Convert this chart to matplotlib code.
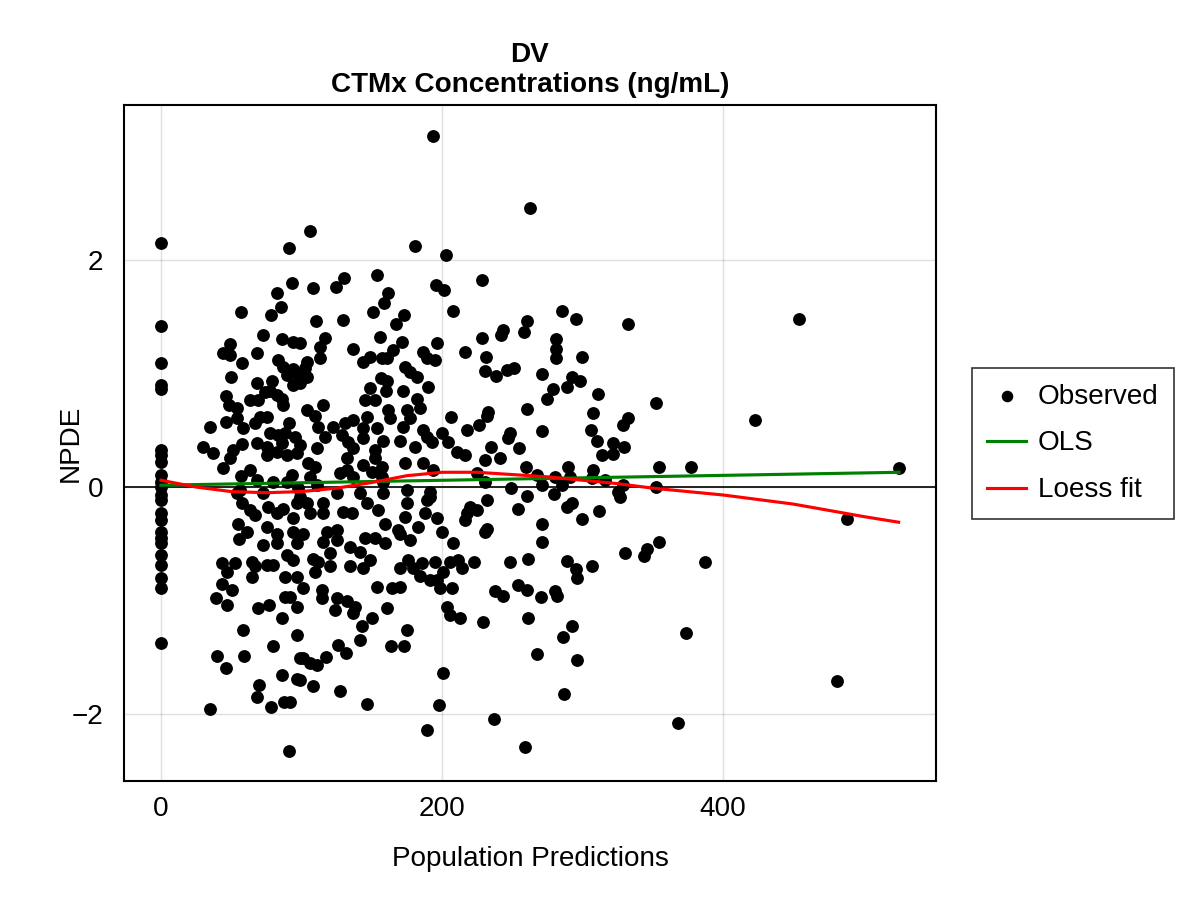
import numpy as np
import matplotlib.pyplot as plt

plt.rcParams["font.family"] = ["Liberation Sans", "DejaVu Sans"]
plt.rcParams["axes.unicode_minus"] = True

# --------- data (population prediction, NPDE) ---------
# observations with a population prediction of 0
npde_zero = [2.15, 1.42, 1.09, 0.90, 0.86, 0.33, 0.28, 0.22, 0.11, 0.04, 0.00,
             -0.07, -0.11, -0.23, -0.29, -0.40, -0.45, -0.49, -0.60, -0.69,
             -0.80, -0.89, -1.37]

# predictions roughly 25 - 100
obs_low = [
    (91.1, 2.11), (93.2, 1.80), (82.6, 1.71), (85.4, 1.59), (78.3, 1.52), (56.9, 1.54),
    (72.6, 1.34), (86.1, 1.30), (93.9, 1.28), (49.1, 1.26), (44.1, 1.18), (49.1, 1.16),
    (68.3, 1.18), (57.6, 1.09), (83.3, 1.12), (86.8, 1.06), (93.9, 1.04), (89.7, 0.99),
    (96.8, 1.00), (49.8, 0.97), (68.3, 0.92), (79.0, 0.93), (93.9, 0.90), (74.0, 0.84),
    (77.6, 0.85), (82.6, 0.81), (46.3, 0.80), (48.4, 0.72), (54.1, 0.70), (63.3, 0.77),
    (69.0, 0.77), (86.1, 0.78), (86.8, 0.72), (70.5, 0.62), (75.4, 0.62), (66.9, 0.56),
    (54.1, 0.61), (46.3, 0.57), (58.4, 0.52), (34.9, 0.53), (91.1, 0.56), (77.6, 0.48),
    (83.3, 0.46), (88.3, 0.48), (95.4, 0.44), (68.3, 0.39), (57.6, 0.38), (51.2, 0.33),
    (49.1, 0.26), (29.9, 0.35), (37.0, 0.30), (44.1, 0.17), (75.4, 0.35), (75.4, 0.28),
    (82.6, 0.31), (89.7, 0.28), (96.8, 0.30), (86.1, 0.39), (93.2, 0.11), (68.3, 0.06),
    (79.7, 0.04), (89.7, 0.04), (54.1, -0.05), (56.2, -0.03), (72.6, -0.05), (97.5, -0.01),
    (63.3, 0.15), (56.9, 0.10),
    (54.8, -0.33), (55.5, -0.46), (61.2, -0.40), (43.4, -0.67), (52.7, -0.67), (47.0, -0.75),
    (64.8, -0.66), (66.9, -0.70), (64.8, -0.79), (75.4, -0.69), (79.7, -0.69), (43.4, -0.85),
    (50.5, -0.91), (39.1, -0.98), (47.0, -1.04), (69.0, -1.07), (76.9, -1.04), (86.1, -1.15),
    (58.4, -1.26), (88.3, -0.97), (91.8, -0.97), (88.3, -0.79), (96.8, -0.79), (89.7, -0.60),
    (93.9, -0.64), (72.6, -0.51), (82.6, -0.49), (82.6, -0.41), (93.9, -0.40), (93.9, -0.27),
    (82.6, -0.23), (75.4, -0.35), (66.9, -0.25), (57.6, -0.14), (63.3, -0.20), (76.2, -0.18),
    (86.8, -0.19), (96.8, -0.14), (96.8, -0.49), (96.8, -1.06), (96.8, -1.30),
    (39.9, -1.49), (46.3, -1.59), (59.1, -1.49), (79.7, -1.40), (98.9, -1.51), (69.7, -1.74),
    (68.3, -1.85), (78.3, -1.94), (86.1, -1.66), (96.8, -1.69), (87.5, -1.89), (91.8, -1.89),
    (34.9, -1.96), (91.1, -2.33),
]

# predictions roughly 100 - 220
obs_mid = [
    (193.6, 3.09), (106.0, 2.26), (180.8, 2.12), (202.8, 2.04), (108.2, 1.75), (124.5, 1.76),
    (130.2, 1.84), (153.7, 1.87), (161.6, 1.71), (158.7, 1.62), (150.9, 1.54), (172.9, 1.52),
    (167.3, 1.44), (110.3, 1.46), (129.5, 1.47), (195.7, 1.78), (201.4, 1.74), (207.8, 1.55),
    (116.7, 1.31), (113.2, 1.23), (113.2, 1.14), (98.9, 1.27), (103.9, 1.10), (102.5, 1.05),
    (103.9, 0.97), (98.9, 0.92), (136.6, 1.22), (155.9, 1.32), (171.5, 1.28), (196.4, 1.27),
    (165.1, 1.21), (157.3, 1.14), (160.8, 1.14), (148.7, 1.15), (143.8, 1.10), (186.5, 1.19),
    (189.3, 1.14), (195.0, 1.12), (216.4, 1.19), (173.7, 1.06), (177.2, 1.01), (182.2, 0.97),
    (156.6, 0.96), (160.8, 0.93), (190.0, 0.88), (172.2, 0.85), (160.1, 0.85), (148.7, 0.87),
    (145.2, 0.77), (152.3, 0.77), (182.2, 0.78), (184.3, 0.70), (161.6, 0.68), (163.0, 0.61),
    (175.1, 0.68), (177.2, 0.61), (172.2, 0.53), (115.3, 0.72), (103.9, 0.68), (109.6, 0.63),
    (111.7, 0.53), (122.4, 0.53), (136.6, 0.59), (146.6, 0.62), (131.0, 0.56), (143.8, 0.52),
    (153.7, 0.52), (116.7, 0.44), (128.8, 0.46), (143.8, 0.43), (158.0, 0.41), (133.1, 0.40),
    (170.1, 0.41), (180.8, 0.35), (186.5, 0.50), (189.3, 0.44), (192.9, 0.40), (200.0, 0.48),
    (204.3, 0.40), (206.4, 0.62), (217.8, 0.50), (210.7, 0.31), (216.4, 0.28), (111.0, 0.34),
    (104.6, 0.21), (109.6, 0.18), (106.0, 0.09), (98.9, 0.37), (132.4, 0.26), (136.6, 0.34),
    (132.4, 0.15), (136.6, 0.09), (127.4, 0.12), (152.3, 0.33), (152.3, 0.26), (143.8, 0.19),
    (150.2, 0.13), (157.3, 0.18), (157.3, 0.09), (158.0, 0.04), (173.7, 0.21), (186.5, 0.21),
    (193.6, 0.15), (125.3, -0.05), (111.0, 0.02), (141.6, -0.05), (158.0, -0.05), (175.1, -0.03),
    (191.4, -0.04), (191.4, -0.09), (98.9, -0.09),
    (103.9, -0.14), (106.0, -0.23), (115.3, -0.23), (115.3, -0.14), (129.5, -0.22), (135.9, -0.23),
    (146.6, -0.14), (154.4, -0.20), (175.1, -0.14), (187.9, -0.23), (189.3, -0.11), (196.4, -0.27),
    (217.8, -0.23), (216.4, -0.29), (159.4, -0.33), (173.7, -0.26), (182.9, -0.35), (200.0, -0.40),
    (207.8, -0.49), (168.7, -0.38), (177.2, -0.47), (170.1, -0.41), (118.1, -0.40), (125.3, -0.38),
    (125.3, -0.47), (115.3, -0.48), (101.1, -0.41), (145.2, -0.45), (152.3, -0.45), (159.4, -0.49),
    (134.5, -0.53), (141.6, -0.57), (120.3, -0.58), (108.2, -0.63), (111.7, -0.66), (120.3, -0.70),
    (109.6, -0.75), (134.5, -0.70), (143.8, -0.71), (148.7, -0.64), (170.1, -0.71), (175.8, -0.64),
    (179.4, -0.71), (185.8, -0.67), (195.0, -0.66), (184.3, -0.78), (191.4, -0.82), (196.4, -0.82),
    (200.7, -0.75), (205.7, -0.66), (211.4, -0.64), (214.2, -0.71), (198.6, -0.89), (207.1, -0.89),
    (153.7, -0.88), (164.4, -0.89), (170.1, -0.88), (101.1, -0.89), (114.6, -0.91), (114.6, -0.98),
    (125.3, -0.98), (132.4, -1.00), (123.8, -1.08), (138.1, -1.06), (136.6, -1.11), (160.8, -1.07),
    (203.5, -1.06), (205.7, -1.13), (212.8, -1.15), (150.2, -1.15), (143.1, -1.22), (175.1, -1.26),
    (101.1, -1.51), (106.0, -1.55), (111.0, -1.57), (117.4, -1.50), (126.0, -1.39), (131.7, -1.46),
    (141.6, -1.35), (163.7, -1.40), (172.9, -1.40), (98.9, -1.70), (108.2, -1.75), (127.4, -1.80),
    (146.6, -1.91), (200.7, -1.64), (197.9, -1.92), (189.3, -2.14),
]

# predictions above roughly 220
obs_high = [
    (262.6, 2.46), (228.5, 1.82), (285.4, 1.55), (295.4, 1.48), (332.4, 1.44), (454.1, 1.48),
    (260.5, 1.46), (258.4, 1.37), (243.4, 1.38), (242.0, 1.34), (228.5, 1.31), (281.1, 1.30),
    (281.1, 1.22), (281.1, 1.14), (299.6, 1.15), (231.3, 1.15), (271.2, 1.00), (230.6, 1.02),
    (238.4, 0.98), (246.3, 1.03), (251.2, 1.05), (292.5, 0.97), (298.2, 0.93), (289.0, 0.88),
    (279.0, 0.86), (274.7, 0.78), (311.0, 0.82), (352.3, 0.74), (422.8, 0.59), (260.5, 0.69),
    (232.7, 0.66), (232.0, 0.63), (307.5, 0.65), (332.4, 0.61), (328.8, 0.55), (226.3, 0.55),
    (271.2, 0.49), (248.4, 0.48), (247.0, 0.43), (254.8, 0.34), (306.0, 0.50), (310.3, 0.41),
    (321.7, 0.39), (329.5, 0.35), (234.9, 0.35), (313.9, 0.28), (321.7, 0.29), (241.3, 0.26),
    (230.6, 0.24),
    (259.8, 0.18), (289.7, 0.18), (354.4, 0.18), (377.2, 0.18), (525.3, 0.17), (224.9, 0.12),
    (230.6, 0.04), (267.6, 0.11), (271.2, 0.02), (280.4, 0.09), (285.4, 0.02), (291.1, 0.09),
    (307.5, 0.15), (306.8, 0.08), (316.0, 0.06), (328.8, 0.02), (325.3, -0.04), (326.7, -0.09),
    (352.3, 0.00), (249.1, -0.01), (260.5, -0.08), (279.7, -0.06), (232.0, -0.11), (224.9, -0.20),
    (219.9, -0.18), (254.1, -0.19), (289.0, -0.18), (292.5, -0.14), (299.6, -0.28), (311.7, -0.21),
    (488.2, -0.28), (271.2, -0.33), (230.6, -0.40), (232.0, -0.37), (271.2, -0.48), (222.8, -0.66),
    (248.4, -0.66), (261.2, -0.63), (289.0, -0.65), (295.4, -0.72), (296.1, -0.80), (306.8, -0.70),
    (330.2, -0.58), (343.8, -0.61), (345.9, -0.55), (354.4, -0.48), (387.2, -0.66), (237.7, -0.92),
    (243.4, -0.96), (254.1, -0.86), (260.5, -0.91), (270.5, -0.97), (280.4, -0.92), (281.8, -0.96),
    (229.2, -1.19), (261.2, -1.15), (292.5, -1.22), (286.1, -1.32), (373.6, -1.29), (267.6, -1.47),
    (296.1, -1.52), (481.1, -1.71), (286.8, -1.82), (237.0, -2.04), (367.9, -2.08), (259.1, -2.29),
]

# loess curve as drawn in the reference
loess_x = [0, 25, 50, 75, 100, 125, 150, 175, 200, 225, 250, 275, 300, 325, 350, 400, 450, 500, 525]
loess_y = [0.06, 0.00, -0.04, -0.05, -0.04, -0.01, 0.04, 0.10, 0.13, 0.13, 0.11, 0.09, 0.06,
           0.03, -0.01, -0.07, -0.15, -0.26, -0.31]

# --------- assemble ---------
pts = np.array(obs_low + obs_mid + obs_high)
pred = np.concatenate([np.zeros(len(npde_zero)), pts[:, 0]])
npde = np.concatenate([np.array(npde_zero), pts[:, 1]])

# ordinary least squares line
slope, intercept = np.polyfit(pred, npde, 1)
ols_x = np.array([0.0, pred.max()])
ols_y = intercept + slope * ols_x

# --------- plot ---------
fig = plt.figure(figsize=(8, 6), dpi=150)
ax = fig.add_axes([124 / 1200, 1 - 781 / 900, (936 - 124) / 1200, (781 - 105) / 900])

fs = 13.4
grid_c = (0, 0, 0, 0.12)
for v in [0, 200, 400]:
    ax.axvline(v, color=grid_c, lw=0.7, zorder=0)
for v in [-2, 0, 2]:
    ax.axhline(v, color=grid_c, lw=0.7, zorder=0)
ax.axhline(0, color="black", lw=0.8, zorder=1)

ax.scatter(pred, npde, s=38, color="black", linewidths=0, zorder=2, label="Observed")
ax.plot(ols_x, ols_y, color="green", lw=1.5, zorder=3, label="OLS")
ax.plot(loess_x, loess_y, color="red", lw=1.5, zorder=4, label="Loess fit")

ax.set_xlim(-26.3, 551.6)
ax.set_ylim(-2.59, 3.366)
ax.set_xticks([0, 200, 400])
ax.set_yticks([-2, 0, 2])
ax.tick_params(length=0, labelsize=fs)
ax.tick_params(axis="x", pad=7)
ax.tick_params(axis="y", pad=10)
for s in ax.spines.values():
    s.set_linewidth(1.0)

ax.set_xlabel("Population Predictions", fontsize=fs, labelpad=11.5)
ax.set_ylabel("NPDE", fontsize=fs)
ax.yaxis.set_label_coords((84 - 124) / 812, 0.5)
ax.set_title("DV\nCTMx Concentrations (ng/mL)", fontsize=fs, fontweight="bold", pad=6)

leg = fig.legend(
    loc="center left",
    bbox_to_anchor=(972 / 1200, 1 - 443.5 / 900),
    borderaxespad=0,
    fontsize=fs,
    frameon=True,
    fancybox=False,
    edgecolor="black",
    handlelength=1.4,
    handletextpad=0.4,
    labelspacing=0.75,
    borderpad=0.55,
    markerscale=0.9,
)
leg.get_frame().set_linewidth(0.8)

fig.savefig("out.png", dpi=150, facecolor="white")
